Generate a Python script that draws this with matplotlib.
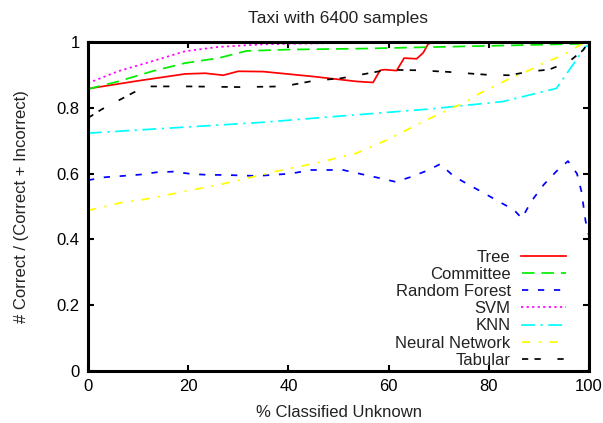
import matplotlib
matplotlib.use("Agg")
import matplotlib.pyplot as plt
from matplotlib.ticker import FuncFormatter, MultipleLocator

plt.rcParams['font.family'] = ['Liberation Sans', 'DejaVu Sans']
plt.rcParams['lines.scale_dashes'] = False

title = "Taxi with 6400 samples"
xlabel = "% Classified Unknown"
ylabel = "# Correct / (Correct + Incorrect)"

tree_x = [0, 10, 19.4, 23.4, 27, 30, 35, 45, 53.7, 56.9, 58.3, 59.3, 61.6, 63.1, 65.6, 66.9, 67.9, 69, 100]
tree_y = [0.858, 0.882, 0.903, 0.905, 0.899, 0.911, 0.91, 0.895, 0.88, 0.877, 0.914, 0.916, 0.913, 0.951, 0.949, 0.967, 0.994, 1.0, 1.0]

comm_x = [0, 6, 12.8, 19.4, 26, 31.7, 40, 55, 70, 85, 100]
comm_y = [0.857, 0.88, 0.911, 0.936, 0.951, 0.973, 0.977, 0.98, 0.985, 0.99, 0.995]

rf_x = [0, 3.4, 7, 10.4, 13.7, 17, 20.6, 24, 27.4, 31, 34, 40.5, 44.5, 47.5, 50.9, 54.7, 58, 61.4, 64.5, 68, 70.3, 73, 76, 79, 82, 85, 86.6, 88.5, 91, 93.5, 95.8, 97.6, 98.5, 99.3, 100]
rf_y = [0.58, 0.589, 0.593, 0.597, 0.604, 0.606, 0.599, 0.596, 0.596, 0.594, 0.593, 0.6, 0.611, 0.611, 0.611, 0.598, 0.587, 0.575, 0.59, 0.611, 0.629, 0.592, 0.566, 0.541, 0.515, 0.49, 0.464, 0.516, 0.567, 0.607, 0.638, 0.6, 0.545, 0.457, 0.41]

svm_x = [0, 6, 12.7, 19.4, 26, 35, 50, 70, 100]
svm_y = [0.875, 0.911, 0.941, 0.972, 0.985, 0.993, 0.997, 0.998, 0.999]

knn_x = [0, 35, 48, 68, 82.8, 93.5, 99.3, 100]
knn_y = [0.723, 0.756, 0.772, 0.796, 0.819, 0.859, 0.986, 0.99]

nn_x = [0, 3.4, 6.7, 10.7, 13.4, 17.4, 20, 24, 27.3, 30.7, 34, 37.3, 40.4, 44.3, 47.3, 51, 53.6, 59.6, 65.6, 70.3, 75.6, 78.2, 84.2, 88.2, 90.8, 94.8, 98.2, 100]
nn_y = [0.488, 0.5, 0.512, 0.52, 0.528, 0.54, 0.548, 0.56, 0.57, 0.582, 0.594, 0.606, 0.616, 0.628, 0.638, 0.653, 0.662, 0.702, 0.748, 0.783, 0.819, 0.844, 0.889, 0.915, 0.935, 0.96, 0.991, 1.0]

tab_x = [0, 2.7, 11.4, 20, 30, 39, 45, 50.6, 55.3, 58.5, 62, 66, 72, 80, 84, 88.6, 92, 96, 98.8, 100]
tab_y = [0.769, 0.795, 0.865, 0.865, 0.863, 0.865, 0.882, 0.89, 0.903, 0.912, 0.915, 0.914, 0.909, 0.9, 0.899, 0.911, 0.916, 0.94, 0.975, 1.0]

fig = plt.figure(figsize=(6.03, 4.23), dpi=100)
ax = fig.add_axes([88/603, 52/423, 501/603, 329/423])

lw = 1.25
ax.plot(tree_x, tree_y, color='#ff0000', lw=lw, ls='-', label='Tree')
ax.plot(comm_x, comm_y, color='#00ee00', lw=lw, ls=(0, (9, 5)), label='Committee')
ax.plot(rf_x, rf_y, color='#0000ff', lw=lw, ls=(0, (4.5, 7)), label='Random Forest')
ax.plot(svm_x, svm_y, color='#ff00ff', lw=lw, ls=(0, (1.6, 2.4)), label='SVM')
ax.plot(knn_x, knn_y, color='#00ffff', lw=lw, ls=(0, (10, 4, 1.6, 4)), label='KNN')
ax.plot(nn_x, nn_y, color='#ffff00', lw=lw, ls=(0, (6, 6, 1.6, 6)), label='Neural Network')
ax.plot(tab_x, tab_y, color='#000000', lw=lw, ls=(0, (4.5, 4.5, 4.5, 12)), label='Tabular')

fs = 12
ax.set_xlim(0, 100)
ax.set_ylim(0, 1)
ax.xaxis.set_major_locator(MultipleLocator(20))
ax.yaxis.set_major_locator(MultipleLocator(0.2))
ax.yaxis.set_major_formatter(FuncFormatter(lambda v, p: '%g' % round(v, 2)))
ax.tick_params(direction='in', length=4, width=1.5, top=True, right=True,
               labelsize=fs, pad=6)
for s in ax.spines.values():
    s.set_linewidth(2.2)

ax.set_title(title, fontsize=12.5, pad=14, color='#222222')
ax.set_xlabel(xlabel, fontsize=fs, labelpad=8, color='#222222')
ax.set_ylabel(ylabel, fontsize=fs, labelpad=20, color='#222222')

leg = ax.legend(loc='lower right', bbox_to_anchor=(481/501, 0.0), markerfirst=False,
                frameon=False, fontsize=fs, handlelength=2.65, handletextpad=0.65,
                labelspacing=0.13, borderpad=0.0, borderaxespad=0.2)
for t in leg.get_texts():
    t.set_color('#222222')

fig.savefig('out.png', dpi=100)
